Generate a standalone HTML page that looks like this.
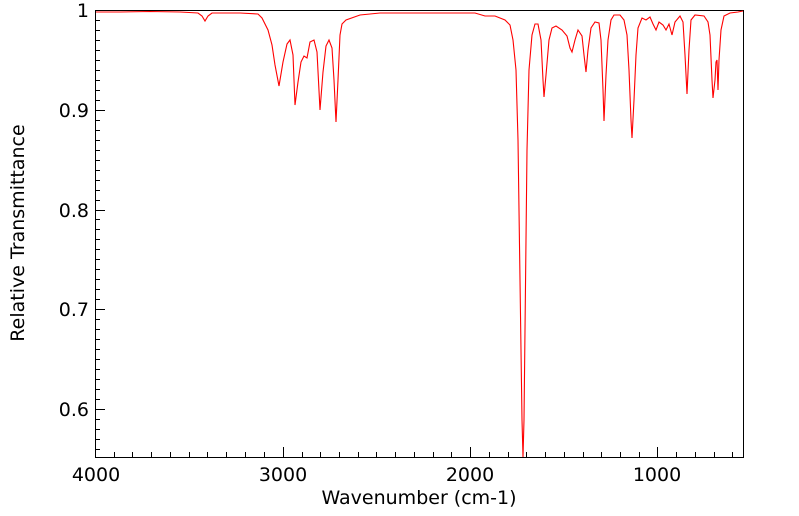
<!DOCTYPE html>
<html><head><meta charset="utf-8"><style>
body{margin:0;background:#fff;}
svg{display:block;font-family:"DejaVu Sans","Liberation Sans",sans-serif;}
</style></head><body>
<svg width="799" height="516" viewBox="0 0 799 516" xmlns="http://www.w3.org/2000/svg">
<rect width="799" height="516" fill="#fff"/>
<g stroke="#000" stroke-width="1" fill="none">
<rect x="95.5" y="10.5" width="648" height="447"/>
<path d="M95,409.5h10 M95,309.5h10 M95,210.5h10 M95,110.5h10
M95,419.5h5 M95,429.5h5 M95,439.5h5 M95,449.5h5
M95,399.5h5 M95,389.5h5 M95,379.5h5 M95,369.5h5 M95,359.5h5 M95,349.5h5 M95,339.5h5 M95,329.5h5 M95,319.5h5
M95,299.5h5 M95,289.5h5 M95,279.5h5 M95,269.5h5 M95,259.5h5 M95,249.5h5 M95,239.5h5 M95,229.5h5 M95,219.5h5
M95,200.5h5 M95,190.5h5 M95,180.5h5 M95,170.5h5 M95,160.5h5 M95,150.5h5 M95,140.5h5 M95,130.5h5 M95,120.5h5
M95,100.5h5 M95,90.5h5 M95,80.5h5 M95,70.5h5 M95,60.5h5 M95,50.5h5 M95,40.5h5 M95,30.5h5 M95,20.5h5"/>
<path d="M283.5,457v-10 M470.5,457v-10 M657.5,457v-10"/>
<path d="M114.5,457v-5M132.5,457v-5M151.5,457v-5M170.5,457v-5M189.5,457v-5M207.5,457v-5M226.5,457v-5M245.5,457v-5M264.5,457v-5
M302.5,457v-5M320.5,457v-5M339.5,457v-5M358.5,457v-5M376.5,457v-5M395.5,457v-5M414.5,457v-5M433.5,457v-5M451.5,457v-5
M489.5,457v-5M508.5,457v-5M526.5,457v-5M545.5,457v-5M564.5,457v-5M583.5,457v-5M601.5,457v-5M620.5,457v-5M639.5,457v-5
M676.5,457v-5M695.5,457v-5M714.5,457v-5M732.5,457v-5"/>
</g>
<path fill="none" stroke="#ff0000" stroke-width="1.1" d="M96,12 L120,12 L150,11.5 L180,12 L198,13 L202,16 L205,21 L208,16 L212,13 L240,13 L258,14 L262,18 L268,30 L272,45 L275,65 L279,86 L283,62 L287,44 L290,40 L293,55 L295,105 L298,82 L301,62 L304,56 L307,58 L310,42 L314,40 L317,52 L320,110 L323,72 L326,46 L329,40 L332,48 L334,80 L336,122 L338,80 L340,35 L342,24 L346,20 L360,15 L380,13 L420,13 L460,13 L475,13 L485,16 L495,16 L505,20 L510,25 L513,40 L516,70 L518,140 L520,280 L522,420 L523,457 L524,420 L525,330 L527,150 L529,70 L532,35 L535,24 L538,24 L541,40 L543,80 L544,97 L546,75 L549,40 L552,28 L556,26 L562,30 L567,36 L570,48 L572,52 L575,40 L578,30 L582,36 L584,55 L586,72 L588,50 L591,28 L595,22 L599,23 L601,40 L603,90 L604,121 L606,75 L608,40 L611,20 L614,15 L620,15 L624,20 L627,35 L629,70 L631,120 L632,138 L634,100 L636,55 L638,28 L642,18 L646,20 L650,17 L653,24 L656,30 L659,22 L663,25 L666,30 L669,24 L672,35 L675,22 L680,16 L683,22 L685,55 L687,94 L689,50 L691,20 L695,15 L704,16 L708,22 L710,35 L712,80 L713,98 L715,80 L716,62 L717,60 L718,90 L719,60 L721,30 L724,16 L730,13 L738,12 L743,11"/>
<g font-size="19" fill="#000">
<text x="89" y="17" text-anchor="end">1</text>
<text x="89" y="117" text-anchor="end">0.9</text>
<text x="89" y="217" text-anchor="end">0.8</text>
<text x="89" y="316" text-anchor="end">0.7</text>
<text x="89" y="416" text-anchor="end">0.6</text>
<text x="96" y="481" text-anchor="middle">4000</text>
<text x="283" y="481" text-anchor="middle">3000</text>
<text x="470" y="481" text-anchor="middle">2000</text>
<text x="657" y="481" text-anchor="middle">1000</text>
<text x="419" y="504" text-anchor="middle">Wavenumber (cm-1)</text>
<text transform="translate(24,233) rotate(-90)" text-anchor="middle">Relative Transmittance</text>
</g>
</svg>
</body></html>
